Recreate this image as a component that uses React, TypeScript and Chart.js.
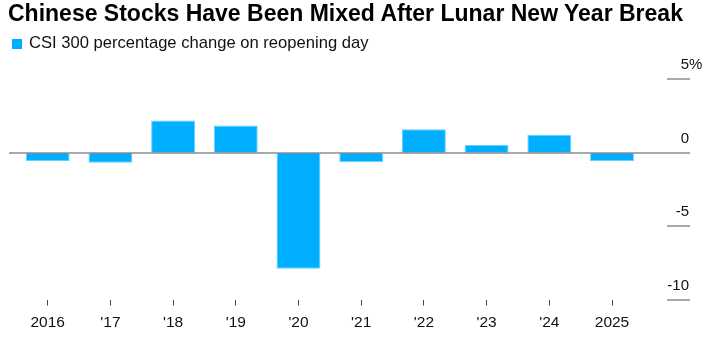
import { useEffect, useRef } from "react";
import { Chart, registerables } from "chart.js";

Chart.register(...registerables);

const titleText = "Chinese Stocks Have Been Mixed After Lunar New Year Break";
const seriesName = "CSI 300 percentage change on reopening day";
const categories = ["2016", "'17", "'18", "'19", "'20", "'21", "'22", "'23", "'24", "2025"];
const changes = [-0.56, -0.68, 2.2, 1.86, -7.9, -0.65, 1.59, 0.52, 1.22, -0.56];
const yTickValues = [5, 0, -5, -10];
const yTickSuffix = ["%", "", "", ""];

const FONT = '"Liberation Sans", Arial, sans-serif';
const BAR = "#00aeff";

const rightAxisPlugin = {
  id: "rightAxis",
  afterDatasetsDraw(chart: any) {
    const y = chart.scales.y;
    const ctx = chart.ctx as CanvasRenderingContext2D;
    ctx.save();
    yTickValues.forEach((v, i) => {
      const py = Math.round(y.getPixelForValue(v));
      ctx.strokeStyle = "#8c8c8c";
      ctx.lineWidth = 1.5;
      ctx.beginPath();
      ctx.moveTo(v === 0 ? 9 : 667, py);
      ctx.lineTo(690, py);
      ctx.stroke();
      ctx.fillStyle = "#111";
      ctx.font = `15px ${FONT}`;
      ctx.textBaseline = "alphabetic";
      ctx.textAlign = "right";
      ctx.fillText(String(v), 689, py - 10);
      if (yTickSuffix[i]) {
        ctx.textAlign = "left";
        ctx.fillText(yTickSuffix[i], 689, py - 10);
      }
    });
    ctx.restore();
  },
};

export default function App() {
  const ref = useRef<HTMLCanvasElement>(null);
  useEffect(() => {
    if (!ref.current) return;
    const chart = new Chart(ref.current, {
      type: "bar",
      data: {
        labels: categories,
        datasets: [
          {
            label: seriesName,
            data: changes,
            backgroundColor: BAR,
            borderColor: "#66cfff",
            borderWidth: 1,
            barPercentage: 0.7,
            categoryPercentage: 1,
          },
        ],
      },
      options: {
        animation: false,
        responsive: false,
        events: [],
        layout: { padding: { left: 16.35, right: 76.65, top: 79.3, bottom: 0 } },
        plugins: {
          legend: { display: false },
          title: { display: false },
          tooltip: { enabled: false },
        },
        scales: {
          x: {
            grid: {
              display: true,
              offset: false,
              drawOnChartArea: false,
              drawTicks: true,
              tickLength: 6,
              color: "#444",
              lineWidth: 1,
            },
            border: { display: false },
            ticks: {
              font: { family: FONT, size: 15.5 },
              color: "#111",
              padding: 8,
              maxRotation: 0,
              autoSkip: false,
            },
            afterFit: (s: any) => {
              s.height = 56.5;
            },
          },
          y: {
            display: false,
            min: -10,
            max: 5,
            ticks: { stepSize: 5 },
          },
        },
      },
      plugins: [rightAxisPlugin],
    });
    return () => chart.destroy();
  }, []);

  return (
    <div style={{ position: "absolute", left: 0, top: 0, width: 720, height: 356, background: "#fff" }}>
      <canvas ref={ref} width={720} height={356} style={{ position: "absolute", left: 0, top: 0, width: 720, height: 356 }} />
      <div
        style={{
          position: "absolute",
          left: 8,
          top: 1.5,
          font: `bold 23px ${FONT}`,
          lineHeight: "23px",
          color: "#000",
          whiteSpace: "nowrap",
          letterSpacing: "0px",
        }}
      >
        {titleText}
      </div>
      <div
        style={{
          position: "absolute",
          left: 12,
          top: 34.5,
          display: "flex",
          alignItems: "center",
          font: `16.6px ${FONT}`,
          lineHeight: "16px",
          color: "#111",
          whiteSpace: "nowrap",
        }}
      >
        <span style={{ display: "inline-block", width: 10, height: 10, background: BAR, marginRight: 7, position: "relative", top: 1 }} />
        <span>{seriesName}</span>
      </div>
    </div>
  );
}
